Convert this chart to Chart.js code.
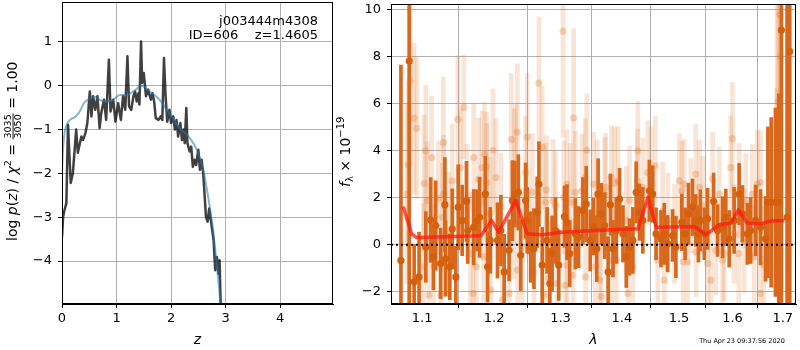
<!DOCTYPE html>
<html>
<head>
<meta charset="utf-8">
<script src="https://cdn.jsdelivr.net/npm/chart.js@4.4.1/dist/chart.umd.min.js"></script>
<style>
  html, body { margin: 0; padding: 0; background: #fff; }
  #wrap { position: relative; width: 800px; height: 350px; }
  #pz { position: absolute; left: 0; top: 0; }
  #spec { position: absolute; left: 336px; top: 0; }
</style>
</head>
<body>
<div id="wrap">
  <canvas id="pz" width="336" height="350"></canvas>
  <canvas id="spec" width="464" height="350"></canvas>
</div>
<script>
// ---- p(z) panel ----
const pzZ = [
  0, 0.02, 0.037, 0.08, 0.11, 0.16, 0.2, 0.26, 0.29, 0.355,
  0.385, 0.43, 0.465, 0.51, 0.54, 0.57, 0.61, 0.65, 0.69, 0.72,
  0.77, 0.81, 0.86, 0.89, 0.94, 0.98, 1.03, 1.08, 1.12, 1.16,
  1.2, 1.23, 1.27, 1.31, 1.34, 1.37, 1.40, 1.42, 1.45, 1.47,
  1.50, 1.54, 1.58, 1.63, 1.66, 1.69, 1.72, 1.77, 1.81, 1.84,
  1.87, 1.90, 1.93, 1.97, 2.0, 2.04, 2.07, 2.10, 2.13, 2.17,
  2.20, 2.23, 2.25, 2.28, 2.30, 2.34, 2.37, 2.40, 2.43, 2.46,
  2.50, 2.53, 2.56, 2.59, 2.64, 2.67, 2.70, 2.73, 2.78, 2.81,
  2.84, 2.87, 2.89, 2.91, 2.93
];
const pzLogp = [
  -3.45, -3.0, -2.88, -2.68, -0.89, -2.22, -1.99, -1.0, -1.53, -1.16,
  -1.24, -1.08, -0.85, -0.13, -0.70, -0.24, -0.55, -0.24, -0.97, -0.62,
  -0.32, -0.78, 0.59, -0.59, -0.32, -0.82, -0.40, -0.78, -0.24, -0.55,
  0.67, -0.47, -0.55, -0.24, -0.13, -0.36, -0.17, -0.43, 1.01, 0.06,
  0.29, -0.24, -0.09, -0.32, -0.17, -0.36, -0.74, -0.78, -0.70, -0.78,
  0.63, -0.24, -0.82, -0.55, -0.85, -0.70, -1.0, -0.78, -1.16, -0.85,
  -1.24, -1.0, -1.31, -0.51, -1.31, -1.50, -1.39, -1.85, -1.69, -1.81,
  -1.46, -1.92, -1.69, -2.0, -2.99, -3.10, -2.80, -3.07, -3.52, -4.21,
  -3.91, -4.29, -3.98, -5.0, -5.6
];
const smoothZ = [0, 0.02, 0.05, 0.08, 0.15, 0.25, 0.32, 0.40, 0.50, 0.60, 0.69, 0.81, 0.94, 1.06, 1.18,
  1.31, 1.46, 1.61, 1.79, 1.98, 2.16, 2.35, 2.50, 2.59, 2.68, 2.77, 2.83, 2.89, 2.93];
const smoothLogp = [-1.95, -1.4, -1.05, -0.9, -0.78, -0.70, -0.60, -0.40, -0.30, -0.25, -0.32, -0.36, -0.32, -0.21, -0.21,
  -0.13, 0.0, -0.13, -0.32, -0.66, -0.97, -1.2, -1.54, -1.92, -2.53, -3.29, -3.98, -4.74, -5.4];
const zTicks = [0, 1, 2, 3, 4];
const logpTicks = [-4, -3, -2, -1, 0, 1];

// ---- spectrum panel ----
const darkWave = [
  1.0723, 1.0830, 1.0895, 1.0960, 1.1049, 1.1115, 1.1151, 1.1182, 1.1249, 1.1307,
  1.1317, 1.1375, 1.1408, 1.1457, 1.1490, 1.1545, 1.1605, 1.1623, 1.1707, 1.1755,
  1.1791, 1.1872, 1.1905, 1.1943, 1.2048, 1.2098, 1.2146, 1.2218, 1.2267, 1.2302,
  1.2355, 1.2391, 1.2465, 1.2489, 1.2540, 1.2590, 1.2640, 1.2666, 1.2716, 1.2792,
  1.2834, 1.2869, 1.2922, 1.2973, 1.3062, 1.3102, 1.3145, 1.3235, 1.3287, 1.3356,
  1.3410, 1.3475, 1.3528, 1.3582, 1.3604, 1.3658, 1.3713, 1.3769, 1.3807, 1.3851,
  1.3906, 1.3961, 1.4018, 1.4074, 1.4130, 1.4187, 1.4243, 1.4300, 1.4358, 1.4472,
  1.4531, 1.4589, 1.4677, 1.4735, 1.4795, 1.4884, 1.4943, 1.5050, 1.5110, 1.5172,
  1.5245, 1.5305, 1.5355, 1.5390, 1.5465, 1.5526, 1.5639, 1.5714, 1.5808, 1.5871,
  1.5936, 1.6031, 1.6128, 1.6192, 1.6289, 1.6354, 1.6452, 1.6550, 1.6650, 1.6698,
  1.6764, 1.6851, 1.6919, 1.6972, 1.7089, 1.7144
];
const darkFlux = [
  -0.67, 7.80, -1.58, -1.37, -0.10, 1.05, -0.52, 0.81, -0.80, 1.70,
  -0.59, -0.94, 0.67, -1.37, 1.59, 1.03, 1.84, 0.60, 0.74, 1.03,
  1.16, 2.15, -0.94, 0.18, 0.18, 0.60, -1.16, -0.24, 1.87, 2.15,
  2.22, -0.45, 1.87, 1.03, -0.10, -0.17, 1.38, 2.57, -0.87, 0.18,
  -1.65, -0.38, 0.60, -0.87, 1.19, 0.95, -0.38, 0.46, 0.32, 1.45,
  1.73, 0.18, 0.77, -0.17, 2.15, 1.31, 0.81, -1.16, 1.70, -0.17,
  0.60, 1.94, 0.46, -0.52, -0.10, 0.18, 2.22, 1.38, 1.03, 2.29,
  2.15, 0.46, 0.25, 0.46, 0.04, 0.39, -0.10, 0.95, 0.46, 1.31,
  1.59, 1.03, 0.46, 1.03, 0.46, 1.10, 1.84, 0.60, 0.74, 1.16,
  0.25, 1.03, 2.15, 1.31, 0.46, 0.60, 1.03, 0.74, 0.25, 1.80,
  1.80, 1.80, 1.80, 9.11, 1.16, 8.20
];
const darkErr = [
  8.3, 11, 1.6, 1.9, 1.5, 1.8, 1.4, 1.9, 1.5, 2.0,
  1.6, 1.4, 1.7, 1.3, 1.8, 1.5, 1.7, 1.4, 1.6, 1.3,
  1.7, 1.6, 1.5, 1.4, 1.6, 1.5, 1.6, 1.3, 1.7, 1.4,
  1.6, 1.5, 1.6, 1.4, 1.5, 1.7, 1.5, 1.8, 1.6, 1.4,
  1.5, 1.6, 1.4, 1.5, 1.3, 1.6, 1.4, 1.5, 1.3, 1.4,
  1.6, 1.3, 1.2, 1.4, 1.5, 1.3, 1.4, 1.5, 1.3, 1.2,
  1.4, 1.3, 1.2, 1.3, 1.2, 1.4, 1.3, 1.2, 1.4, 1.3,
  1.2, 1.1, 1.2, 1.3, 1.2, 1.1, 1.3, 1.2, 1.1, 1.3,
  1.2, 1.1, 1.2, 1.3, 1.1, 1.3, 1.2, 1.1, 1.3, 1.2,
  1.2, 1.4, 1.3, 1.2, 1.3, 1.4, 1.5, 1.6, 1.8, 3.2,
  3.6, 4.0, 4.6, 12, 12, 12
];
const lightWave = [
  1.0843, 1.0895, 1.0930, 1.0817, 1.0805, 1.1049, 1.1128, 1.1026, 1.1071, 1.1020,
  1.1093, 1.1159, 1.1218, 1.1285, 1.1293, 1.1272, 1.1249, 1.1361, 1.1408, 1.1485,
  1.1567, 1.1522, 1.1615, 1.1661, 1.1707, 1.1745, 1.1700, 1.1777, 1.1825, 1.1862,
  1.1896, 1.1890, 1.1943, 1.1982, 1.1848, 1.1950, 1.2025, 1.2098, 1.2121, 1.2218,
  1.2252, 1.2292, 1.2317, 1.2340, 1.2285, 1.2345, 1.2415, 1.2465, 1.2489, 1.2565,
  1.2590, 1.2666, 1.2716, 1.2742, 1.2768, 1.2783, 1.2818, 1.2885, 1.2922, 1.2946,
  1.3040, 1.3051, 1.3077, 1.3102, 1.3108, 1.3156, 1.3208, 1.3197, 1.3235, 1.3340,
  1.3394, 1.3400, 1.3420, 1.3528, 1.3556, 1.3590, 1.3630, 1.3658, 1.3713, 1.3729,
  1.3823, 1.3878, 1.3935, 1.3830, 1.3906, 1.4074, 1.4103, 1.4130, 1.4187, 1.4272,
  1.4265, 1.4358, 1.4445, 1.4502, 1.4577, 1.4619, 1.4706, 1.4735, 1.4800, 1.4919,
  1.5002, 1.5050, 1.5092, 1.5074, 1.5154, 1.5214, 1.5305, 1.5310, 1.5373, 1.5434,
  1.5526, 1.5588, 1.5620, 1.5682, 1.5746, 1.5808, 1.5840, 1.5966, 1.5999, 1.6031,
  1.6128, 1.6120, 1.6224, 1.6256, 1.6387, 1.6420, 1.6485, 1.6550, 1.6545, 1.6618,
  1.6718, 1.6885, 1.6905, 1.6880, 1.6940, 1.6953
];
const lightFlux = [
  6.96, 5.36, 4.94, 3.39, 2.15, 3.98, 3.70, 2.60, 1.87, -0.94,
  -2.14, -0.94, 1.98, 4.33, 2.15, 1.16, -2.14, 0.46, 2.71, 5.32,
  5.84, 3.27, 1.87, -0.38, 3.70, -0.94, -2.07, 2.78, 3.27, 3.84,
  2.64, 3.32, 1.31, 4.01, -0.52, -1.93, 2.85, 1.59, -2.35, -2.07,
  4.47, 3.27, 3.35, 4.78, 0.95, -1.08, -0.10, 3.06, 4.57, 2.22,
  -1.16, 6.86, 4.12, -2.14, 1.80, 2.32, -1.43, 1.87, 1.66, -1.65,
  9.07, 2.01, -1.72, 2.57, -0.87, 1.80, 5.38, -1.30, 2.22, 2.29,
  2.85, -1.37, 4.01, 2.57, -0.94, 2.15, -1.51, -2.21, 2.15, 2.43,
  2.85, 2.60, 2.71, -0.66, -0.66, 1.03, -2.07, 1.87, -0.94, 3.98,
  2.71, 2.43, 3.06, 3.00, 3.35, -0.66, 1.42, -1.51, 1.03, 0.46,
  2.71, 2.29, 2.57, -0.73, -0.73, 1.66, 3.00, -0.31, 2.43, 1.66,
  -0.80, -1.51, 2.78, -0.24, 2.15, -0.66, -0.38, 3.27, 4.50, 0.46,
  2.29, -0.38, 0.18, 1.87, 2.15, -0.52, 2.57, 2.64, -2.07, -0.87,
  1.31, 5.67, 6.09, 2.64, 9.77, 7.99
];
const lightErr = [
  3.6, 3.2, 3.0, 3.5, 3.8, 2.8, 2.6, 2.9, 2.5, 2.7,
  2.4, 2.6, 2.4, 2.8, 2.5, 2.3, 2.5, 2.6, 2.4, 2.7,
  2.2, 2.5, 2.4, 2.6, 2.3, 2.5, 2.2, 2.6, 2.4, 2.2,
  2.5, 2.3, 2.4, 2.6, 2.5, 2.3, 2.5, 2.3, 2.4, 2.6,
  2.8, 2.5, 2.6, 2.9, 2.4, 2.3, 2.5, 2.4, 2.7, 2.5,
  2.3, 2.8, 2.6, 2.4, 2.5, 2.3, 2.4, 2.6, 2.3, 2.5,
  4.5, 2.4, 2.5, 2.3, 2.4, 2.5, 3.8, 2.4, 2.6, 2.4,
  2.5, 2.3, 2.4, 2.2, 2.4, 2.3, 2.5, 2.2, 2.4, 2.3,
  2.2, 2.4, 2.3, 2.2, 2.4, 2.3, 2.2, 2.3, 2.2, 2.1,
  2.2, 2.1, 2.2, 2.0, 2.1, 2.0, 2.1, 2.2, 2.0, 2.1,
  2.0, 2.1, 1.9, 2.0, 2.1, 2.0, 2.1, 1.9, 2.0, 2.1,
  2.0, 2.1, 2.0, 1.9, 2.0, 2.1, 2.0, 2.2, 2.4, 2.1,
  2.0, 2.1, 2.2, 2.0, 2.1, 2.2, 2.3, 2.2, 2.4, 2.5,
  2.8, 4.5, 5.0, 4.0, 6.0, 5.5
];
const modelWave = [1.0752, 1.0862, 1.0929, 1.1811, 1.1962, 1.2063, 1.2317, 1.2489, 1.2716, 1.3025, 1.3555,
  1.4276, 1.4448, 1.4592, 1.5283, 1.5497, 1.5749, 1.5968, 1.6114, 1.6289, 1.6553, 1.6749, 1.7034];
const modelFlux = [1.62, 0.46, 0.30, 0.38, 1.03, 0.53, 1.87, 0.46, 0.42, 0.53, 0.60,
  0.68, 2.01, 0.74, 0.77, 0.42, 0.86, 0.91, 1.47, 0.91, 0.89, 1.0, 1.03];
const waveTicks = [1.1, 1.2, 1.3, 1.4, 1.5, 1.6, 1.7];
const fluxTicks = [-2, 0, 2, 4, 6, 8, 10];

Chart.defaults.font.family = "'DejaVu Sans', sans-serif";
Chart.defaults.font.size = 13;
Chart.defaults.color = '#000';
Chart.defaults.animation = false;

const FONT = "'DejaVu Sans'";
const minus = v => (v < 0 ? '\u2212' + Math.abs(v) : String(v));
const pts = (xs, ys) => xs.map((x, i) => ({ x: x, y: ys[i] }));
const bars = (xs, ys, es) => xs.map((x, i) => ({ x: x, y: [ys[i] - es[i], ys[i] + es[i]] }));
const fixTicks = vals => scale => { scale.ticks = vals.map(v => ({ value: v })); };

const gridOpts = { color: '#b0b0b0', lineWidth: 1, tickColor: '#000', tickLength: 4 };

function xAxis(opts, height) {
  return Object.assign({
    afterFit: s => { s.height = height; s.paddingLeft = 0; s.paddingRight = 0; },
    grid: gridOpts,
    border: { color: '#000', width: 1 },
    ticks: { padding: 3, maxRotation: 0, autoSkip: false }
  }, opts);
}
function yAxis(opts, width) {
  return Object.assign({
    afterFit: s => { s.width = width; s.paddingTop = 0; s.paddingBottom = 0; },
    grid: gridOpts,
    border: { color: '#000', width: 1 },
    ticks: { padding: 6, autoSkip: false, callback: v => minus(v) }
  }, opts);
}

const frame = {
  id: 'frame',
  afterDraw(chart) {
    const { ctx, chartArea: a } = chart;
    ctx.save();
    ctx.strokeStyle = '#000';
    ctx.lineWidth = 1;
    ctx.strokeRect(Math.round(a.left) + 0.5, Math.round(a.top) + 0.5,
      Math.round(a.right - a.left) - 1, Math.round(a.bottom - a.top) - 1);
    ctx.restore();
  }
};

// rotated label written piece by piece (mathtext-like)
function writeRotated(ctx, x0, y0, pieces) {
  ctx.save();
  ctx.translate(x0, y0);
  ctx.rotate(-Math.PI / 2);
  ctx.fillStyle = '#000';
  ctx.textBaseline = 'alphabetic';
  ctx.textAlign = 'left';
  let x = 0;
  pieces.forEach(p => {
    ctx.font = p.font;
    if (p.frac) {
      const w = Math.max(ctx.measureText(p.frac[0]).width, ctx.measureText(p.frac[1]).width);
      ctx.fillText(p.frac[0], x + 1, -5.8);
      ctx.fillText(p.frac[1], x + 1, 4.2);
      ctx.fillRect(x, -4.4, w + 2, 0.9);
      x += w + 2;
    } else {
      ctx.fillText(p.t, x, p.dy || 0);
      x += ctx.measureText(p.t).width;
    }
  });
  ctx.restore();
}

const pzText = {
  id: 'pzText',
  afterDraw(chart) {
    const ctx = chart.ctx;
    ctx.save();
    ctx.fillStyle = '#000';
    ctx.font = '13px ' + FONT;
    ctx.textAlign = 'right';
    ctx.fillText('j003444m4308', 318, 25);
    ctx.fillText('ID=606    z=1.4605', 318, 39);
    ctx.restore();
    const R = '14px ' + FONT, I = 'italic 14px ' + FONT, S = '9.5px ' + FONT;
    writeRotated(ctx, 17, 241, [
      { t: 'log ', font: R }, { t: 'p', font: I }, { t: '(', font: R }, { t: 'z', font: I },
      { t: ')', font: R }, { t: ' / ', font: R }, { t: '\u03c7', font: I }, { t: '2', font: S, dy: -6 },
      { t: ' = ', font: R }, { frac: ['3035', '3050'], font: S }, { t: ' = 1.00', font: R }
    ]);
  }
};

new Chart(document.getElementById('pz'), {
  type: 'scatter',
  data: {
    datasets: [
      { data: pts(smoothZ, smoothLogp), showLine: true, borderColor: 'rgba(31,119,180,0.55)', borderWidth: 2,
        pointRadius: 0, tension: 0.4, cubicInterpolationMode: 'monotone', order: 1 },
      { data: pts(pzZ, pzLogp), showLine: true, borderColor: 'rgba(0,0,0,0.75)', borderWidth: 2.5,
        pointRadius: 0, tension: 0, borderJoinStyle: 'round', order: 2 }
    ]
  },
  options: {
    responsive: false,
    layout: { padding: { top: 2, right: 3, left: 0, bottom: 0 } },
    plugins: { legend: { display: false }, tooltip: { enabled: false } },
    scales: {
      x: xAxis({ type: 'linear', min: 0, max: 4.97, afterBuildTicks: fixTicks(zTicks),
        title: { display: true, text: 'z', font: { size: 14, style: 'italic' }, padding: { top: 0, bottom: 1 } } }, 46),
      y: yAxis({ type: 'linear', min: -4.98, max: 1.91, afterBuildTicks: fixTicks(logpTicks) }, 62)
    }
  },
  plugins: [frame, pzText]
});

const specText = {
  id: 'specText',
  afterDraw(chart) {
    const ctx = chart.ctx;
    ctx.save();
    ctx.fillStyle = '#000';
    ctx.font = '6.5px ' + FONT;
    ctx.textAlign = 'center';
    ctx.fillText('Thu Apr 23 09:37:56 2020', 406, 342.5);
    ctx.restore();
    const R = '14px ' + FONT, I = 'italic 14px ' + FONT, S = '10px ' + FONT;
    writeRotated(ctx, 14, 187, [
      { t: 'f', font: I }, { t: '\u03bb', font: S, dy: 3 }, { t: ' \u00d7 10', font: R },
      { t: '\u221219', font: S, dy: -6 }
    ]);
  }
};

new Chart(document.getElementById('spec'), {
  type: 'scatter',
  data: {
    datasets: [
      { type: 'bar', data: bars(lightWave, lightFlux, lightErr), backgroundColor: 'rgba(225,118,45,0.2)',
        barThickness: 4, grouped: false, borderWidth: 0, order: 6 },
      { data: pts(lightWave, lightFlux), backgroundColor: 'rgba(225,118,45,0.3)', borderWidth: 0,
        pointRadius: 3.6, order: 5 },
      { type: 'bar', data: bars(darkWave, darkFlux, darkErr), backgroundColor: 'rgb(217,104,28)',
        barThickness: 3, grouped: false, borderWidth: 0, order: 4 },
      { data: pts(darkWave, darkFlux), backgroundColor: 'rgb(212,96,14)', borderWidth: 0,
        pointRadius: 3.6, order: 3 },
      { data: pts(modelWave, modelFlux), showLine: true, borderColor: 'rgba(255,25,15,0.75)', borderWidth: 3.5,
        pointRadius: 0, tension: 0, borderJoinStyle: 'round', order: 2 },
      { data: pts([1.0595, 1.7274], [0, 0]), showLine: true, borderColor: '#000', borderWidth: 2,
        borderDash: [2, 3], pointRadius: 0, order: 1 }
    ]
  },
  options: {
    responsive: false,
    layout: { padding: { top: 2, right: 1, left: 0, bottom: 0 } },
    plugins: { legend: { display: false }, tooltip: { enabled: false } },
    scales: {
      x: xAxis({ type: 'logarithmic', min: 1.0595, max: 1.7274, offset: false, afterBuildTicks: fixTicks(waveTicks),
        ticks: { padding: 3, maxRotation: 0, autoSkip: false, callback: v => Number(v).toFixed(1) },
        title: { display: true, text: '\u03bb', font: { size: 14, style: 'italic' }, padding: { top: 0, bottom: 1 } } }, 46),
      y: yAxis({ type: 'linear', min: -2.52, max: 10.22, afterBuildTicks: fixTicks(fluxTicks) }, 55)
    }
  },
  plugins: [frame, specText]
});
</script>
</body>
</html>
